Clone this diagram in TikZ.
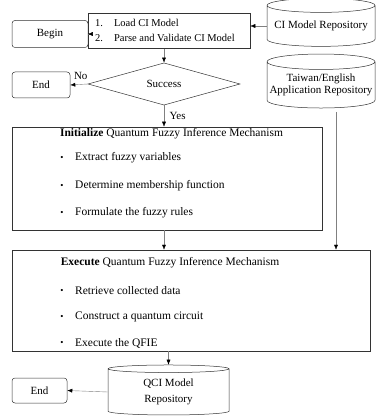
\documentclass[tikz,border=0pt]{standalone}
\usepackage{fontspec}
\setmainfont{Liberation Serif}
\usepackage{tikz}
\usetikzlibrary{arrows.meta}
\usetikzlibrary{shapes.geometric}
\tikzset{>={Latex[length=5pt,width=4pt,black]}}
\tikzstyle{term} = [draw=black!80, line width=0.5pt, rounded corners=3pt, inner sep=0pt]
\tikzstyle{proc} = [draw=black!80, line width=0.5pt, inner sep=0pt]
\tikzstyle{repo} = [cylinder, shape border rotate=90, draw=black!80, line width=0.5pt, aspect=0.15, inner sep=0pt, align=center]
\tikzstyle{link} = [->, draw=gray]
\tikzstyle{dot} = [inner sep=0pt, font=\small]
\tikzstyle{item} = [anchor=west, inner sep=0pt, font=\fontsize{11.5}{13}\selectfont]

\begin{document}
\begin{tikzpicture}[x=1pt, y=-1pt, font=\fontsize{11}{12.5}\selectfont]
\useasboundingbox (0,0) rectangle (376,419);
% top part
\node [term, minimum width=76, minimum height=27] (begin) at (50,34) {Begin};
\node [proc, minimum width=162, minimum height=35] (load) at (169,31) {};
\node [anchor=west, inner sep=0pt, font=\fontsize{10.5}{14.5}\selectfont] (steps) at (95,31)
  {\begin{tabular}{@{}l@{\hspace{11pt}}l@{}}1. & Load CI Model\\ 2. & Parse and Validate CI Model\end{tabular}};
\node [repo, minimum width=108, minimum height=48] (cimr) at (321,26) {CI Model Repository};
\node [diamond, draw=black!80, line width=0.5pt, inner sep=0pt, minimum width=152, minimum height=38] (succ) at (164,84) {Success};
\node [term, minimum width=58, minimum height=26] (end1) at (41,85) {End};
\node [repo, minimum width=108, minimum height=54] (appr) at (321,85) {Taiwan/English\\Application Repository};
% initialize
\node [proc, minimum width=310, minimum height=103] (init) at (167,178.5) {};
\node [font=\fontsize{11.5}{13}\selectfont] (inittitle) at (171.5,133.5) {\textbf{Initialize} Quantum Fuzzy Inference Mechanism};
\node [dot] (ib1) at (62,158) {\textbullet};
\node [item] (it1) at (75,158) {Extract fuzzy variables};
\node [dot] (ib2) at (62,186) {\textbullet};
\node [item] (it2) at (75,186) {Determine membership function};
\node [dot] (ib3) at (62,213) {\textbullet};
\node [item] (it3) at (75,213) {Formulate the fuzzy rules};
% execute
\node [proc, minimum width=358, minimum height=101] (exec) at (191,300.5) {};
\node [font=\fontsize{11.5}{13}\selectfont] (exectitle) at (170,263) {\textbf{Execute} Quantum Fuzzy Inference Mechanism};
\node [dot] (eb1) at (62,291) {\textbullet};
\node [item] (et1) at (75,291) {Retrieve collected data};
\node [dot] (eb2) at (62,317) {\textbullet};
\node [item] (et2) at (75,317) {Construct a quantum circuit};
\node [dot] (eb3) at (62,343) {\textbullet};
\node [item] (et3) at (75,343) {Execute the QFIE};
% bottom
\node [repo, minimum width=121, minimum height=50, font=\fontsize{11}{16}\selectfont] (qcir) at (168.5,392) {QCI Model\\Repository};
\node [term, minimum width=55, minimum height=25] (end2) at (39.5,390.5) {End};
\coordinate (approut) at (336,112);

\draw [link] (begin.east) -- (begin.east -| load.west);
\draw [link] (cimr.west) -- (cimr.west -| load.east);
\draw [link] (succ.north |- load.south) -- (succ.north);
\draw [link] (succ.west) -- (end1.east) node [pos=0.4, above, yshift=1pt] {No};
\draw [link] (succ.south) -- (succ.south |- init.north) node [midway, right, xshift=2pt] {Yes};
\draw [link] (approut) -- (approut |- exec.north);
\draw [link] (succ.south |- init.south) -- (succ.south |- exec.north);
\draw [link] (qcir.north |- exec.south) -- (qcir.north);
\draw [link] (qcir.west) -- (end2.east);
\end{tikzpicture}
\end{document}
